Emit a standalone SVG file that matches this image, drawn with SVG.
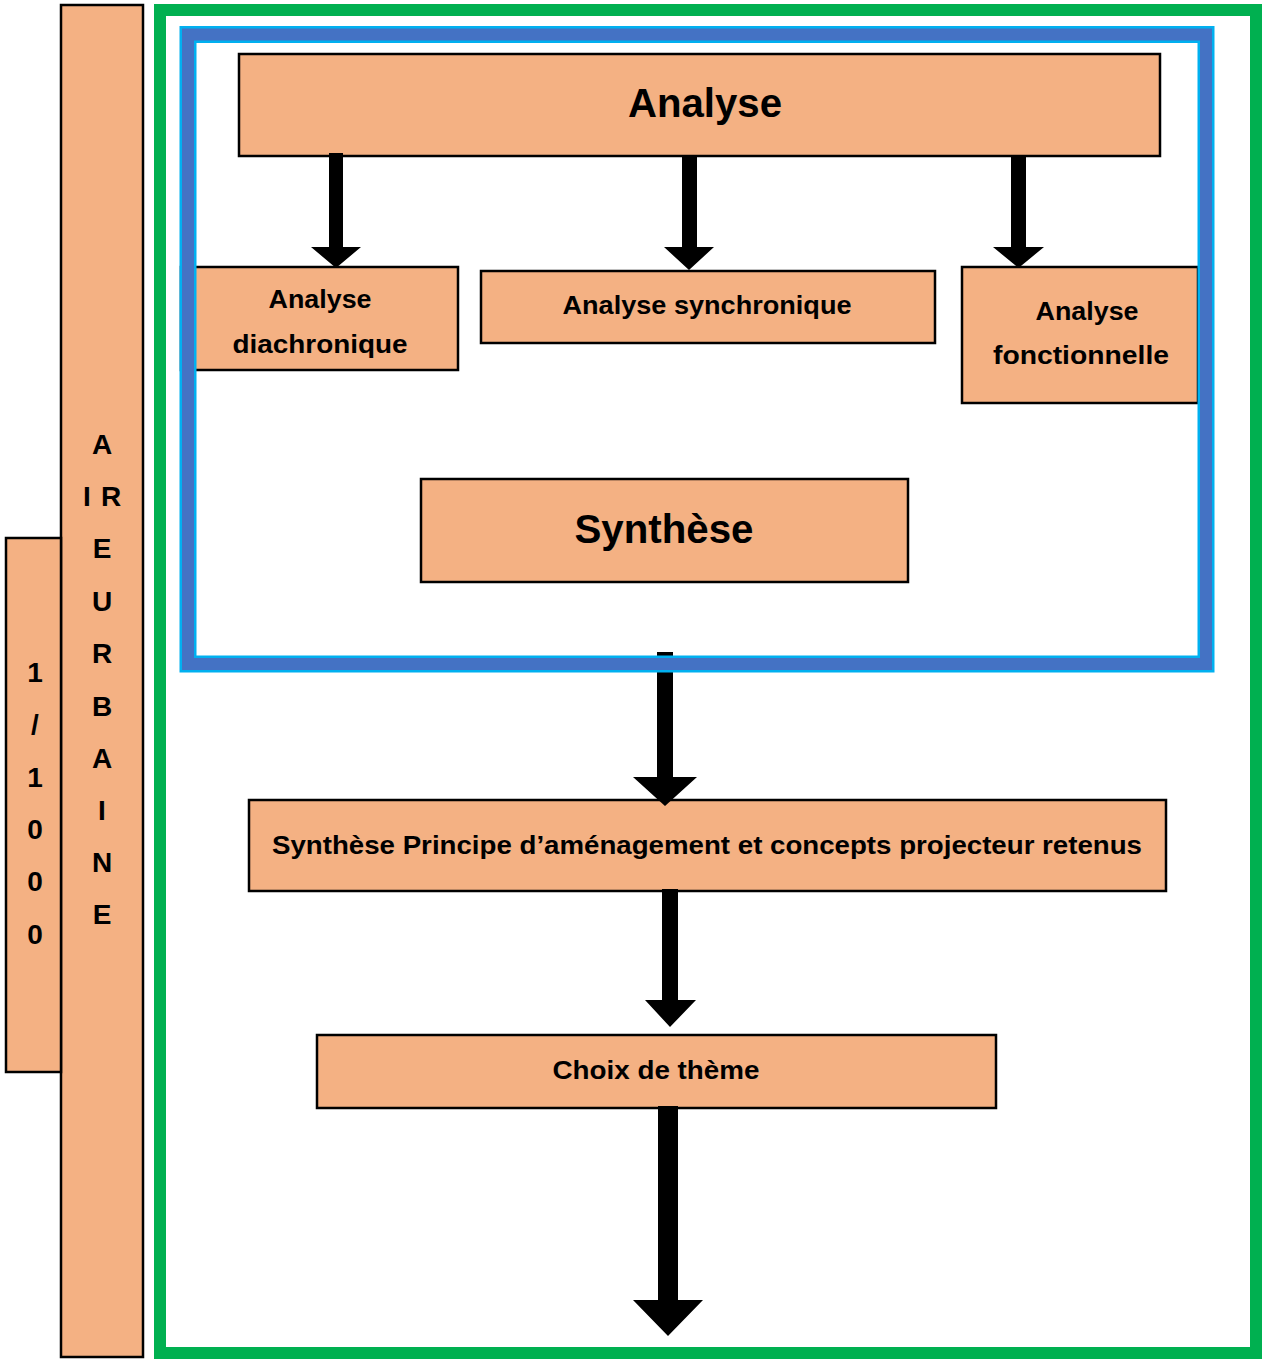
<svg xmlns="http://www.w3.org/2000/svg" width="1262" height="1360" viewBox="0 0 1262 1360">
<style>
.box{fill:#F4B183;stroke:#000;stroke-width:2.5}
.t{font-family:"Liberation Sans",Arial,sans-serif;font-weight:bold;fill:#000;text-anchor:middle}
.arrow{fill:#000}
</style>
<rect width="1262" height="1360" fill="#fff"/>
<g id="side-aire-urbaine">
<rect class="box" x="61" y="5" width="82" height="1352"/>
<g class="t" font-size="28">
<text x="102" y="454">A</text>
<text x="87" y="506">I</text><text x="111" y="506">R</text>
<text x="102" y="558">E</text>
<text x="102" y="611">U</text>
<text x="102" y="663">R</text>
<text x="102" y="716">B</text>
<text x="102" y="768">A</text>
<text x="102" y="820">I</text>
<text x="102" y="872">N</text>
<text x="102" y="924">E</text>
</g>
</g>
<g id="side-scale">
<rect class="box" x="6" y="538" width="55" height="534"/>
<g class="t" font-size="28">
<text x="35" y="682">1</text>
<text x="35" y="734">/</text>
<text x="35" y="787">1</text>
<text x="35" y="839">0</text>
<text x="35" y="891">0</text>
<text x="35" y="944">0</text>
</g>
</g>
<g id="frame-green"><rect x="160" y="10" width="1096" height="1343" fill="none" stroke="#00B050" stroke-width="12"/></g>
<g id="node-analyse">
<rect class="box" x="239" y="54" width="921" height="102"/>
<text class="t" x="705" y="117" font-size="40" textLength="154" lengthAdjust="spacingAndGlyphs">Analyse</text>
</g>
<g id="node-diachronique">
<rect class="box" x="181" y="267" width="277" height="103"/>
<text class="t" x="320" y="308" font-size="25" textLength="103" lengthAdjust="spacingAndGlyphs">Analyse</text>
<text class="t" x="320" y="353" font-size="25" textLength="175" lengthAdjust="spacingAndGlyphs">diachronique</text>
</g>
<g id="node-synchronique">
<rect class="box" x="481" y="271" width="454" height="72"/>
<text class="t" x="707" y="314" font-size="25" textLength="289" lengthAdjust="spacingAndGlyphs">Analyse synchronique</text>
</g>
<g id="node-fonctionnelle">
<rect class="box" x="962" y="267" width="236" height="136"/>
<text class="t" x="1087" y="320" font-size="25" textLength="103" lengthAdjust="spacingAndGlyphs">Analyse</text>
<text class="t" x="1081" y="364" font-size="25" textLength="176" lengthAdjust="spacingAndGlyphs">fonctionnelle</text>
</g>
<g id="node-synthese">
<rect class="box" x="421" y="479" width="487" height="103"/>
<text class="t" x="664" y="543" font-size="40" textLength="179" lengthAdjust="spacingAndGlyphs">Synthèse</text>
</g>
<g id="node-principe">
<rect class="box" x="249" y="800" width="917" height="91"/>
<text class="t" x="707" y="854" font-size="25" textLength="870" lengthAdjust="spacingAndGlyphs">Synthèse Principe d’aménagement et concepts projecteur retenus</text>
</g>
<g id="node-choix">
<rect class="box" x="317" y="1035" width="679" height="73"/>
<text class="t" x="656" y="1079" font-size="25" textLength="207" lengthAdjust="spacingAndGlyphs">Choix de thème</text>
</g>
<g id="connectors" class="arrow">
<polygon points="329,153 343,153 343,247 361,247 336,268 311,247 329,247"/>
<polygon points="682,157 697,157 697,247 714,247 689,270 664,247 682,247"/>
<polygon points="1011,157 1026,157 1026,247 1044,247 1018.5,268 993,247 1011,247"/>
<polygon points="657,652 673,652 673,777 697,777 665,806 633,777 657,777"/>
<polygon points="662,889 678,889 678,1000 696,1000 670,1027 645,1000 662,1000"/>
<polygon points="658,1106 678,1106 678,1300 703,1300 668,1336 633,1300 658,1300"/>
</g>
<g id="frame-blue">
<rect x="188" y="34.5" width="1018" height="629.5" fill="none" stroke="#00B0F0" stroke-width="17"/>
<rect x="188" y="34.5" width="1018" height="629.5" fill="none" stroke="#4472C4" stroke-width="12"/>
</g>
<rect x="657" y="652" width="16" height="3" fill="#000"/>
</svg>
